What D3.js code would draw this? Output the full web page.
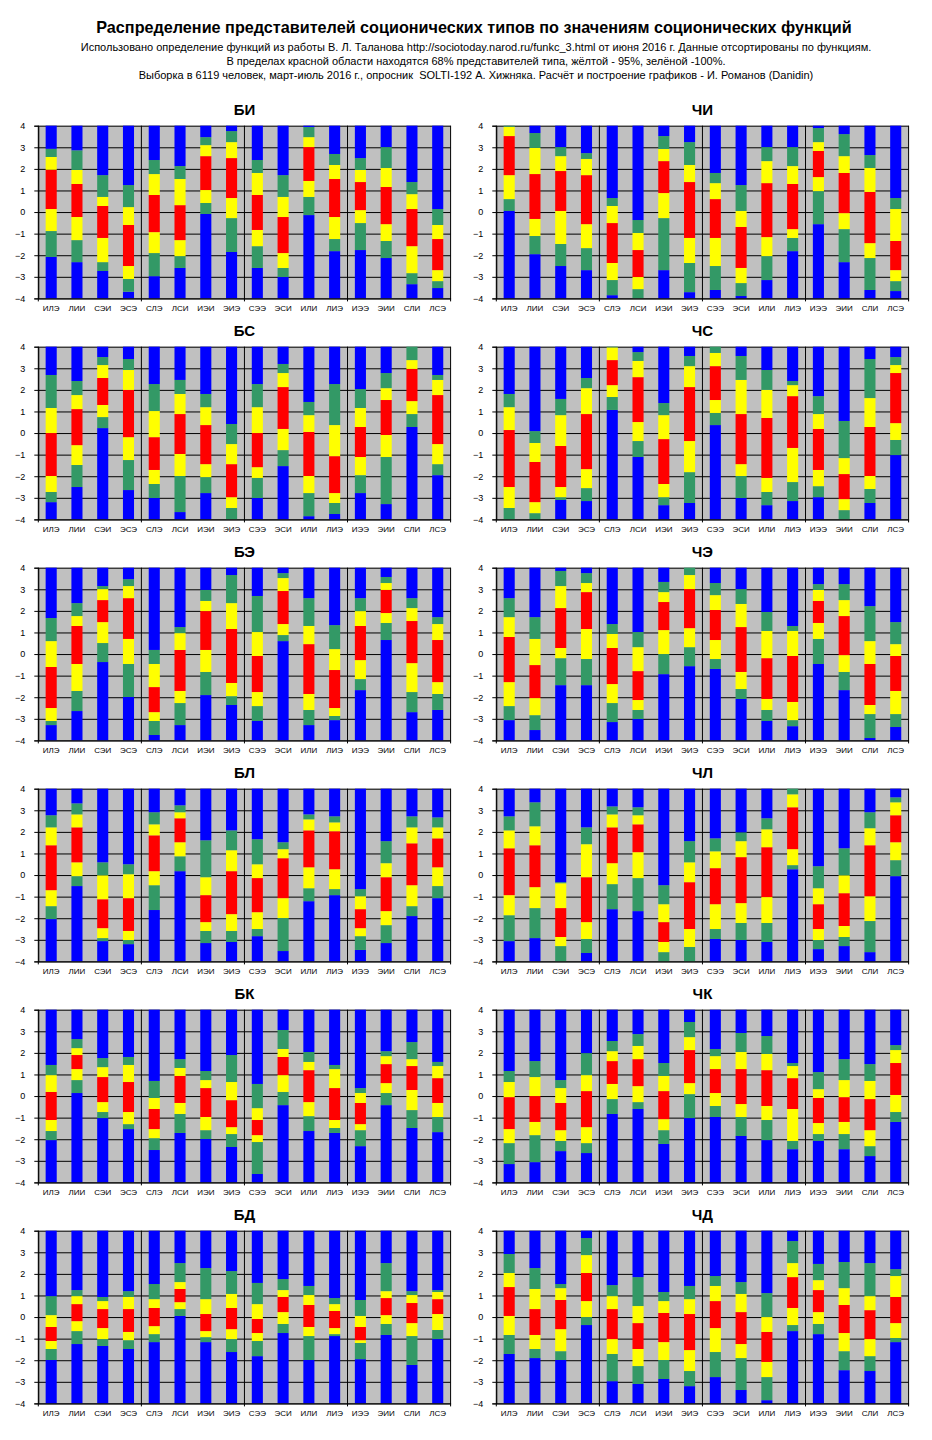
<!DOCTYPE html>
<html>
<head>
<meta charset="utf-8">
<script src="https://cdn.jsdelivr.net/npm/d3@7"></script>
<style>
  body { margin: 0; background: #fff; }
  svg text { font-family: "Liberation Sans", Arial, sans-serif; }
</style>
</head>
<body>
<script>
// socionic types (categories) and functions (panels)
const types = ['ИЛЭ','ЛИИ','СЭИ','ЭСЭ','СЛЭ','ЛСИ','ИЭИ','ЭИЭ','СЭЭ','ЭСИ','ИЛИ','ЛИЭ','ИЭЭ','ЭИИ','СЛИ','ЛСЭ'];
const functionNames = ['БИ','ЧИ','БС','ЧС','БЭ','ЧЭ','БЛ','ЧЛ','БК','ЧК','БД','ЧД'];
const yTicks = [-4,-3,-2,-1,0,1,2,3,4];

// per type: [green low, yellow low, red low, red high, yellow high, green high]
const bi = [
  [-2.08,-0.88,0.14,1.96,2.55,2.93],[-2.32,-1.30,-0.23,1.30,1.95,2.86],[-2.73,-2.32,-1.20,0.28,0.70,1.71],[-3.69,-3.10,-2.50,-0.60,0.23,1.25],
  [-2.97,-1.90,-0.93,0.79,1.76,2.41],[-2.59,-2.04,-1.30,0.32,1.53,2.13],[-0.09,0.42,1.02,2.59,3.10,3.47],[-1.85,-0.28,0.65,2.50,3.24,3.75],
  [-2.59,-1.58,-0.83,0.79,1.81,2.41],[-3.01,-2.59,-1.90,-0.23,0.70,1.71],[-0.14,0.70,1.44,3.01,3.47,3.94],[-1.81,-1.25,-0.23,1.53,2.18,2.69],
  [-1.76,-0.51,0.09,1.39,1.95,2.50],[-2.13,-1.34,-0.56,1.16,2.04,3.01],[-3.34,-2.83,-1.58,0.14,0.83,1.39],[-3.52,-3.20,-2.69,-1.25,-0.60,0.14]
];
const chi = [
  [0.05,0.60,1.71,3.52,3.95,4.0],[-1.95,-1.11,-0.32,1.76,2.97,3.66],[-2.50,-1.48,0.05,1.90,2.59,3.01],[-2.69,-1.67,-0.56,1.71,2.46,2.73],
  [-3.85,-3.15,-2.36,-0.51,0.28,0.65],[-4.0,-3.57,-3.01,-1.76,-0.97,-0.37],[-2.69,-0.28,0.88,2.36,2.92,3.52],[-3.71,-2.36,-1.20,1.39,2.18,3.24],
  [-3.61,-2.50,-1.20,0.60,1.34,1.81],[-3.89,-3.29,-2.59,-0.69,0.05,1.25],[-3.15,-2.04,-1.16,1.34,2.36,3.01],[-1.81,-1.20,-0.79,1.30,2.13,3.01],
  [-0.56,0.97,1.62,2.83,3.24,3.89],[-2.32,-0.79,-0.05,1.81,2.59,3.61],[-3.61,-2.13,-1.44,0.93,2.04,2.64],[-3.66,-3.20,-2.69,-1.34,0.14,0.65]
];
const bs = [
  [-3.20,-2.73,-1.99,0.0,1.16,2.69],[-2.50,-1.48,-0.56,1.11,1.76,2.41],[0.23,0.74,1.30,2.55,3.15,3.52],[-2.64,-1.25,-0.19,2.0,2.92,3.43],
  [-3.01,-2.36,-1.71,-0.19,1.02,2.27],[-3.66,-1.99,-0.97,0.88,1.81,2.46],[-2.78,-2.04,-1.44,0.37,1.20,1.81],[-4.0,-3.47,-2.97,-1.44,-0.51,0.42],
  [-3.01,-2.08,-1.58,0.0,1.20,2.27],[-1.53,-0.79,0.19,2.13,2.78,3.20],[-3.85,-2.78,-1.99,0.05,0.83,1.44],[-3.75,-3.24,-2.78,-1.07,0.37,2.27],
  [-2.78,-1.95,-1.11,0.28,1.16,2.04],[-3.29,-1.11,-0.09,1.53,2.08,2.78],[0.28,0.88,1.48,2.97,3.38,4.0],[-1.95,-1.44,-0.51,1.76,2.46,2.69]
];
const cs = [
  [-4.0,-3.47,-2.50,0.14,1.20,1.81],[-4.0,-3.71,-3.20,-1.34,-0.46,0.09],[-3.10,-2.97,-2.50,-0.60,0.83,1.58],[-3.15,-2.55,-1.67,0.88,2.08,2.55],
  [1.07,1.67,2.22,3.38,3.97,4.0],[-1.11,-0.37,0.51,2.59,3.34,3.75],[-3.34,-2.97,-2.36,-0.28,0.83,1.39],[-3.24,-1.81,-0.37,2.13,3.10,3.57],
  [0.37,0.93,1.53,3.10,3.71,4.0],[-3.01,-1.99,-1.44,0.88,2.46,3.57],[-3.34,-2.73,-2.08,0.70,2.0,2.92],[-3.15,-2.27,-0.69,1.71,2.22,2.41],
  [-2.97,-2.46,-1.71,0.19,0.88,1.71],[-4.0,-3.57,-3.06,-1.90,-1.16,0.56],[-3.24,-2.59,-1.99,0.28,1.62,3.43],[-1.02,-0.32,0.46,2.78,3.15,3.52]
];
const be = [
  [-3.29,-3.10,-2.50,-0.60,0.60,1.67],[-2.64,-1.71,-0.46,1.30,1.76,2.36],[-0.37,0.51,1.48,2.50,3.01,3.15],[-1.99,-0.46,0.70,2.59,3.15,3.47],
  [-3.75,-3.10,-2.69,-1.53,-0.46,0.19],[-3.29,-2.27,-1.71,0.19,0.97,1.25],[-1.90,-0.83,0.19,1.99,2.46,2.97],[-2.36,-1.95,-1.34,1.16,2.36,3.66],
  [-3.10,-2.41,-1.76,-0.09,1.02,2.69],[0.60,0.88,1.39,2.92,3.52,3.75],[-3.29,-2.59,-1.85,0.46,1.30,2.59],[-3.06,-2.87,-2.50,-0.74,0.23,1.34],
  [-1.67,-1.16,-0.28,1.30,1.99,2.59],[0.65,1.44,1.90,2.97,3.29,3.57],[-2.69,-1.76,-0.42,1.53,2.13,2.59],[-2.59,-1.85,-1.30,0.65,1.39,1.71]
];
const ce = [
  [-3.06,-2.41,-1.30,0.79,1.71,2.59],[-3.52,-2.83,-2.04,-0.51,0.70,1.71],[-1.44,-0.19,0.28,2.13,3.15,3.85],[-1.44,-0.23,1.16,2.87,3.29,3.75],
  [-3.15,-2.27,-1.39,0.28,0.93,1.39],[-3.01,-2.59,-2.13,-0.79,0.32,1.02],[-0.93,0.0,1.11,2.41,2.87,3.34],[-0.56,0.32,1.20,3.01,3.66,4.0],
  [-0.69,-0.23,0.65,2.04,2.73,3.29],[-2.08,-1.62,-0.83,1.25,2.32,3.01],[-3.10,-2.59,-2.08,-0.19,1.07,1.95],[-3.34,-3.06,-2.22,-0.09,1.07,1.30],
  [-0.46,0.70,1.44,2.46,2.97,3.24],[-1.67,-0.83,-0.05,1.76,2.50,3.24],[-3.89,-2.78,-2.36,-0.46,0.60,2.22],[-3.38,-2.78,-1.71,-0.09,0.46,1.48]
];
const bl = [
  [-2.04,-1.44,-0.70,1.38,2.21,2.77],[-0.51,-0.05,0.59,2.21,2.81,3.32],[-3.06,-2.92,-2.46,-1.12,-0.01,0.59],[-3.20,-3.01,-2.59,-1.07,0.04,0.50],
  [-1.62,-0.47,0.18,1.84,2.35,2.91],[0.18,0.87,1.52,2.63,2.91,3.23],[-3.15,-2.59,-2.18,-0.93,-0.10,1.61],[-3.10,-2.59,-1.81,0.18,1.15,2.07],
  [-2.83,-2.50,-1.72,-0.14,0.50,1.66],[-3.52,-1.99,-1.07,0.78,1.20,1.52],[-1.21,-0.61,0.36,2.07,2.58,2.81],[-0.93,-0.65,0.27,2.03,2.44,2.72],
  [-3.47,-2.83,-2.46,-1.58,-0.98,-0.65],[-3.15,-2.32,-1.67,-0.10,0.55,1.57],[-1.90,-1.44,-0.47,1.47,2.21,2.72],[-1.07,-0.51,0.36,1.70,2.21,2.67]
];
const cl = [
  [-3.06,-1.86,-0.93,1.24,2.07,2.72],[-2.92,-1.53,-0.56,1.38,2.26,3.37],[-4.0,-3.29,-2.87,-1.53,-0.38,-0.33],[-3.61,-2.96,-2.18,-0.10,1.43,2.21],
  [-1.58,-0.42,0.55,2.21,2.81,3.18],[-1.67,-0.14,1.06,2.35,2.77,3.14],[-4.0,-3.57,-3.10,-2.18,-1.35,-0.47],[-4.0,-3.33,-2.50,-0.33,0.59,1.57],
  [-2.96,-2.50,-1.35,0.32,1.10,1.70],[-3.01,-2.22,-1.30,0.83,1.57,1.98],[-3.10,-2.22,-1.02,1.29,2.12,2.63],[0.27,0.46,1.20,3.14,3.74,4.0],
  [-3.43,-3.01,-2.50,-1.35,-0.61,0.41],[-3.29,-2.87,-2.36,-0.84,-0.01,1.24],[-3.57,-2.13,-0.98,1.38,2.17,2.91],[-0.05,0.69,1.52,2.77,3.37,3.60]
];
const bk = [
  [-2.04,-1.62,-1.11,0.19,0.97,1.44],[0.14,0.74,1.25,1.90,2.22,2.64],[-1.02,-0.74,-0.28,0.88,1.34,1.76],[-1.53,-1.30,-0.74,0.65,1.44,1.81],
  [-2.50,-1.95,-1.53,-0.60,-0.09,0.70],[-1.71,-0.83,-0.32,0.93,1.30,1.71],[-1.99,-1.58,-0.97,0.37,0.74,1.16],[-2.36,-1.76,-1.44,-0.19,0.65,1.90],
  [-3.61,-2.13,-1.81,-1.11,-0.56,0.56],[-0.42,0.19,0.97,1.81,2.18,3.06],[-1.62,-0.93,-0.28,1.20,1.58,2.04],[-1.71,-1.48,-1.11,0.37,1.25,1.44],
  [-2.32,-1.58,-1.30,-0.32,0.14,0.37],[-0.42,0.14,0.60,1.48,1.85,2.08],[-1.48,-0.65,0.28,1.39,1.71,2.50],[-1.67,-0.97,-0.32,0.83,1.39,1.58]
];
const ck = [
  [-3.15,-2.18,-1.53,-0.05,0.65,1.16],[-3.06,-1.81,-1.20,0.0,0.88,1.62],[-2.55,-2.08,-1.58,-0.32,0.37,0.74],[-2.64,-2.18,-1.44,0.23,0.97,1.99],
  [-0.83,-0.14,0.56,1.62,2.08,2.55],[-0.60,-0.28,0.46,1.71,2.32,2.87],[-2.22,-1.58,-1.07,0.23,0.93,1.53],[-1.02,0.09,0.60,2.13,2.73,3.43],
  [-0.97,-0.46,0.14,1.25,1.85,2.18],[-1.85,-0.97,-0.37,1.25,2.04,2.92],[-2.04,-1.11,-0.46,1.20,1.95,2.78],[-2.46,-2.08,-0.60,0.83,1.39,1.53],
  [-2.08,-1.76,-1.25,-0.09,0.32,1.11],[-2.46,-1.76,-1.20,-0.05,0.74,1.71],[-2.78,-2.32,-1.58,-0.14,0.70,1.48],[-1.20,-0.74,0.05,1.53,2.13,2.36]
];
const bd = [
  [-1.99,-1.48,-1.11,-0.46,0.09,0.97],[-1.25,-0.65,-0.19,0.60,0.97,1.25],[-1.34,-1.02,-0.51,0.37,0.74,0.93],[-1.48,-1.07,-0.69,0.37,0.93,1.20],
  [-1.16,-0.79,-0.42,0.42,0.83,1.53],[0.05,0.37,0.69,1.30,1.62,2.50],[-1.16,-0.93,-0.65,0.14,0.83,2.27],[-1.62,-1.02,-0.56,0.42,1.07,2.13],
  [-1.81,-1.11,-0.74,-0.09,0.60,1.58],[-0.74,-0.32,0.23,0.93,1.25,1.76],[-1.99,-0.88,-0.46,0.56,1.02,1.44],[-0.88,-0.79,-0.51,0.28,0.60,0.88],
  [-1.95,-1.20,-1.07,-0.46,0.05,0.79],[-0.83,-0.32,0.09,0.88,1.20,2.50],[-2.22,-0.88,-0.28,0.65,1.02,1.20],[-1.02,-0.60,0.14,0.83,1.16,1.25]
];
const cd = [
  [-1.71,-0.83,0.05,1.39,2.04,2.92],[-1.90,-1.48,-0.83,0.37,1.30,2.27],[-1.99,-1.58,-0.56,0.79,1.34,1.53],[-0.37,0.0,0.74,2.04,2.87,3.66],
  [-2.97,-1.71,-1.02,0.37,0.97,1.48],[-3.10,-2.27,-1.48,-0.28,0.51,1.85],[-2.87,-1.99,-1.16,0.19,0.74,1.16],[-3.20,-2.50,-1.53,0.14,0.83,1.44],
  [-2.78,-1.62,-0.51,0.74,1.44,1.90],[-3.38,-1.90,-1.25,0.23,1.07,1.62],[-3.85,-2.78,-2.08,-0.69,0.0,1.11],[-0.65,-0.37,0.42,1.85,2.50,3.52],
  [-0.79,-0.32,0.23,1.25,1.71,2.46],[-2.46,-1.58,-0.74,0.56,1.34,2.55],[-2.50,-1.81,-1.02,0.32,0.97,2.50],[-1.16,-0.97,-0.28,0.93,1.90,2.22]
];
const panels = [bi, chi, bs, cs, be, ce, bl, cl, bk, ck, bd, cd];

// blue / green / yellow / red / yellow / green / blue from bottom to top
const segColors = ['#0000ff','#339966','#ffff00','#ff0000','#ffff00','#339966','#0000ff'];

const W = 932, H = 1440;
const plotW = 412.3, plotH = 172.7;
const colX = [38.3, 496.3];
const rowY0 = 125.7, rowStep = 221;

const svg = d3.select('body').append('svg')
  .attr('width', W)
  .attr('height', H);

svg.append('rect').attr('width', W).attr('height', H).attr('fill', '#fff');

// heading
svg.append('text')
  .attr('x', 474).attr('y', 33)
  .attr('text-anchor', 'middle')
  .style('font-size', '16.2px').style('font-weight', 'bold')
  .text('Распределение представителей соционических типов по значениям соционических функций');

const subLines = [
  'Использовано определение функций из работы В. Л. Таланова http://sociotoday.narod.ru/funkc_3.html от июня 2016 г. Данные отсортированы по функциям.',
  'В пределах красной области находятся 68% представителей типа, жёлтой - 95%, зелёной -100%.',
  'Выборка в 6119 человек, март-июль 2016 г., опросник  SOLTI-192 А. Хижняка. Расчёт и построение графиков - И. Романов (Danidin)'
];
svg.selectAll('.sub')
  .data(subLines)
  .enter().append('text')
    .attr('class', 'sub')
    .attr('x', 476)
    .attr('y', (d, i) => 51 + i * 14)
    .attr('text-anchor', 'middle')
    .style('font-size', '11px')
    .style('white-space', 'pre')
    .text(d => d);

const x = d3.scaleBand().domain(types).range([0, plotW]);
const y = d3.scaleLinear().domain([-4, 4]).range([plotH, 0]);
const barW = x.bandwidth() * 0.43;

panels.forEach((rows, i) => {
  const g = svg.append('g')
    .attr('transform', `translate(${colX[i % 2]}, ${rowY0 + Math.floor(i / 2) * rowStep})`);

  g.append('rect')
    .attr('width', plotW).attr('height', plotH)
    .attr('fill', '#c0c0c0');

  // horizontal gridlines
  g.append('g')
    .call(d3.axisLeft(y).tickValues(yTicks).tickSize(-plotW).tickFormat(''))
    .call(a => a.select('.domain').remove())
    .selectAll('line').attr('stroke', '#000');

  // group separators every 4 types
  const seps = [0, 4, 8, 12].map(k => x(types[k])).concat([plotW]);
  g.selectAll('.sep')
    .data(seps)
    .enter().append('line')
      .attr('x1', d => d).attr('x2', d => d)
      .attr('y1', 0).attr('y2', plotH + 3)
      .attr('stroke', '#000');

  // stacked bars
  const bar = g.selectAll('.bar')
    .data(rows)
    .enter().append('g')
      .attr('transform', (d, j) => `translate(${x(types[j]) + (x.bandwidth() - barW) / 2}, 0)`);

  bar.selectAll('rect')
    .data(d => {
      const b = [-4].concat(d, [4]);
      return segColors.map((c, k) => ({lo: b[k], hi: b[k + 1], c}));
    })
    .enter().append('rect')
      .attr('x', 0)
      .attr('width', barW)
      .attr('y', d => y(d.hi))
      .attr('height', d => Math.max(0, y(d.lo) - y(d.hi)))
      .attr('fill', d => d.c);

  // y axis
  g.append('g')
    .call(d3.axisLeft(y).tickValues(yTicks).tickSize(4).tickPadding(9))
    .call(a => a.selectAll('line, .domain').attr('stroke', '#000'))
    .call(a => a.selectAll('text').attr('fill', '#000').style('font-size', '9px').style('font-family', '"Liberation Sans", Arial, sans-serif'));

  // x axis
  g.append('g')
    .attr('transform', `translate(0, ${plotH})`)
    .call(d3.axisBottom(x).tickSize(0).tickPadding(6.7))
    .call(a => a.select('.domain').attr('stroke', '#000'))
    .call(a => a.selectAll('text').attr('fill', '#000').style('font-size', '8px').style('font-family', '"Liberation Sans", Arial, sans-serif'));

  // panel title
  g.append('text')
    .attr('x', plotW / 2)
    .attr('y', -10.5)
    .attr('text-anchor', 'middle')
    .style('font-size', '15px').style('font-weight', 'bold')
    .text(functionNames[i]);
});
</script>
</body>
</html>
